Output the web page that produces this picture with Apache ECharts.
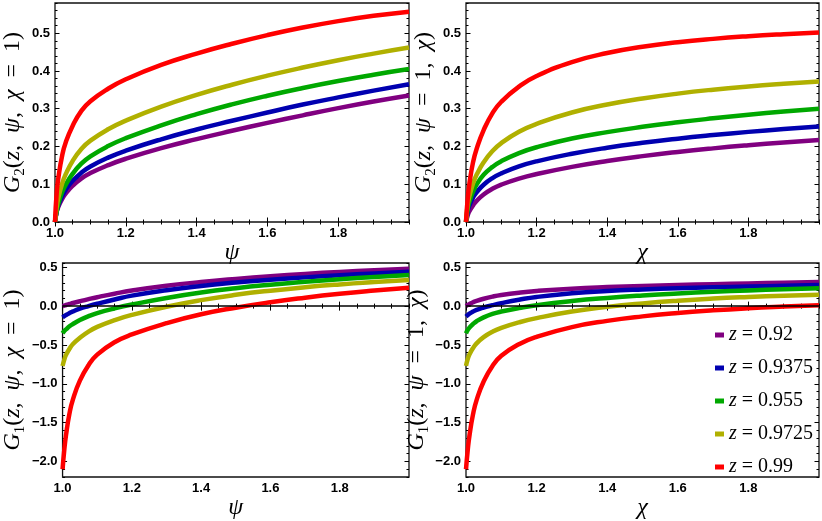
<!DOCTYPE html>
<html>
<head>
<meta charset="utf-8">
<script src="https://cdn.jsdelivr.net/npm/echarts@6/dist/echarts.min.js"></script>
<style>
html,body{margin:0;padding:0;background:#fff;}
#chart{width:822px;height:521px;}
</style>
</head>
<body>
<div id="chart"></div>
<script>
// ---- data ----
const xGrid = [1, 1.005, 1.01, 1.02, 1.03, 1.05, 1.075, 1.1, 1.15, 1.2, 1.3, 1.4, 1.5, 1.6, 1.7, 1.8, 1.9, 2.0];
const zLabels = ['0.92', '0.9375', '0.955', '0.9725', '0.99'];
const zColors = ['#800080', '#0000b0', '#00a800', '#b0b000', '#ff0000'];

const xTickLabels = [1.0, 1.2, 1.4, 1.6, 1.8];
const yTickLabelsTop = [0.0, 0.1, 0.2, 0.3, 0.4, 0.5];
const yTickLabelsBottom = [-2.0, -1.5, -1.0, -0.5, 0.0, 0.5];

// G2(z, psi, chi=1)
const g2PsiPurple = [0, 0.0275, 0.0415, 0.0605, 0.075, 0.096, 0.1155, 0.1295, 0.1505, 0.1675, 0.1955, 0.2195, 0.2415, 0.2625, 0.2825, 0.3015, 0.319, 0.335];
const g2PsiBlue   = [0, 0.029, 0.046, 0.068, 0.085, 0.109, 0.131, 0.147, 0.1705, 0.189, 0.219, 0.245, 0.268, 0.29, 0.311, 0.33, 0.348, 0.365];
const g2PsiGreen  = [0, 0.03, 0.05, 0.078, 0.098, 0.128, 0.155, 0.174, 0.201, 0.222, 0.256, 0.2855, 0.3115, 0.3345, 0.355, 0.3735, 0.39, 0.405];
const g2PsiYellow = [0, 0.041, 0.066, 0.101, 0.126, 0.162, 0.194, 0.2155, 0.2455, 0.2685, 0.3055, 0.3365, 0.3635, 0.3875, 0.409, 0.4285, 0.446, 0.462];
const g2PsiRed    = [0, 0.08, 0.12, 0.175, 0.21, 0.255, 0.295, 0.32, 0.353, 0.378, 0.416, 0.446, 0.472, 0.495, 0.515, 0.532, 0.546, 0.557];

// G2(z, psi=1, chi)
const g2ChiPurple = [0, 0.018, 0.029, 0.044, 0.056, 0.073, 0.088, 0.099, 0.115, 0.127, 0.146, 0.1615, 0.1745, 0.1855, 0.195, 0.2033, 0.2106, 0.2172];
const g2ChiBlue   = [0, 0.0297, 0.0447, 0.0647, 0.0787, 0.0987, 0.1162, 0.1287, 0.1472, 0.1607, 0.1807, 0.1967, 0.2097, 0.2207, 0.2302, 0.2387, 0.2462, 0.253];
const g2ChiGreen  = [0, 0.036, 0.055, 0.08, 0.099, 0.125, 0.146, 0.161, 0.1825, 0.198, 0.221, 0.238, 0.252, 0.264, 0.2745, 0.284, 0.2925, 0.3];
const g2ChiYellow = [0, 0.047, 0.07, 0.102, 0.125, 0.158, 0.188, 0.209, 0.239, 0.26, 0.29, 0.311, 0.327, 0.34, 0.3505, 0.359, 0.366, 0.372];
const g2ChiRed    = [0, 0.0635, 0.1035, 0.1585, 0.1935, 0.2435, 0.2885, 0.3185, 0.3585, 0.3865, 0.4235, 0.4475, 0.464, 0.476, 0.485, 0.492, 0.4975, 0.502];

// G1(z, psi, chi=1)
const g1PsiPurple = [0, 0.007, 0.014, 0.027, 0.04, 0.063, 0.09, 0.115, 0.16, 0.2, 0.262, 0.31, 0.35, 0.385, 0.415, 0.44, 0.462, 0.481];
const g1PsiBlue   = [-0.146, -0.13, -0.115, -0.09, -0.068, -0.033, 0.0, 0.03, 0.085, 0.135, 0.205, 0.26, 0.303, 0.339, 0.37, 0.397, 0.42, 0.442];
const g1PsiGreen  = [-0.35, -0.32, -0.3, -0.26, -0.23, -0.18, -0.13, -0.09, -0.03, 0.02, 0.105, 0.175, 0.23, 0.275, 0.313, 0.346, 0.375, 0.4];
const g1PsiYellow = [-0.77, -0.688, -0.628, -0.548, -0.488, -0.408, -0.328, -0.268, -0.1805, -0.113, -0.008, 0.077, 0.145, 0.199, 0.243, 0.279, 0.309, 0.335];
const g1PsiRed    = [-2.1, -1.85, -1.66, -1.38, -1.2, -0.96, -0.76, -0.625, -0.465, -0.365, -0.22, -0.105, -0.02, 0.05, 0.108, 0.158, 0.2, 0.237];

// G1(z, psi=1, chi)
const g1ChiPurple = [0, 0.015, 0.028, 0.05, 0.068, 0.095, 0.122, 0.143, 0.173, 0.195, 0.225, 0.245, 0.26, 0.272, 0.283, 0.292, 0.301, 0.31];
const g1ChiBlue   = [-0.135, -0.115, -0.098, -0.07, -0.048, -0.018, 0.012, 0.038, 0.082, 0.118, 0.165, 0.195, 0.215, 0.23, 0.242, 0.252, 0.262, 0.272];
const g1ChiGreen  = [-0.35, -0.305, -0.275, -0.23, -0.195, -0.145, -0.1, -0.07, -0.025, 0.012, 0.065, 0.105, 0.137, 0.163, 0.184, 0.202, 0.217, 0.23];
const g1ChiYellow = [-0.77, -0.68, -0.62, -0.54, -0.48, -0.4, -0.33, -0.28, -0.21, -0.155, -0.07, -0.01, 0.035, 0.07, 0.097, 0.117, 0.133, 0.146];
const g1ChiRed    = [-2.1, -1.85, -1.66, -1.39, -1.21, -0.97, -0.77, -0.64, -0.49, -0.395, -0.27, -0.19, -0.132, -0.088, -0.054, -0.027, -0.006, 0.012];

// ---- chart ----
const serif = 'Liberation Serif';
const richName = {
  i: { fontFamily: serif, fontStyle: 'italic', fontSize: 24, lineHeight: 30, color: '#000' },
  r: { fontFamily: serif, fontSize: 24, lineHeight: 30, color: '#000' },
  s: { fontFamily: serif, fontSize: 15, lineHeight: 15, verticalAlign: 'bottom', color: '#000' }
};
const SP = '\u2002';

const panels = [
  { grid: { left: 55, top: 3, width: 354, height: 219 }, yMin: 0, yMax: 0.58, yTicks: yTickLabelsTop, yMinor: 0.02,
    xName: '{i|ψ}', yName: '{i|G}{s|2}{r|(}{i|z}{r|,' + SP + '}{i|ψ}{r|,' + SP + '}{i|χ}{r|' + SP + '=' + SP + '1)}',
    series: [g2PsiPurple, g2PsiBlue, g2PsiGreen, g2PsiYellow, g2PsiRed], zero: false },
  { grid: { left: 466, top: 3, width: 353, height: 219 }, yMin: 0, yMax: 0.58, yTicks: yTickLabelsTop, yMinor: 0.02,
    xName: '{i|χ}', yName: '{i|G}{s|2}{r|(}{i|z}{r|,' + SP + '}{i|ψ}{r|' + SP + '=' + SP + '1,' + SP + '}{i|χ}{r|)}',
    series: [g2ChiPurple, g2ChiBlue, g2ChiGreen, g2ChiYellow, g2ChiRed], zero: false },
  { grid: { left: 55, top: 263, width: 354, height: 220 }, yMin: -2.2, yMax: 0.555, yTicks: yTickLabelsBottom, yMinor: 0.1,
    xName: '{i|ψ}', yName: '{i|G}{s|1}{r|(}{i|z}{r|,' + SP + '}{i|ψ}{r|,' + SP + '}{i|χ}{r|' + SP + '=' + SP + '1)}',
    series: [g1PsiPurple, g1PsiBlue, g1PsiGreen, g1PsiYellow, g1PsiRed], zero: true },
  { grid: { left: 466, top: 263, width: 353, height: 220 }, yMin: -2.2, yMax: 0.555, yTicks: yTickLabelsBottom, yMinor: 0.1,
    xName: '{i|χ}', yName: '{i|G}{s|1}{r|(}{i|z}{r|,' + SP + '}{i|ψ}{r|' + SP + '=' + SP + '1,' + SP + '}{i|χ}{r|)}',
    series: [g1ChiPurple, g1ChiBlue, g1ChiGreen, g1ChiYellow, g1ChiRed], zero: true }
];

const tickLine = { color: '#000', width: 1 };
const labelStyle = { fontFamily: 'Liberation Sans', fontWeight: 'bold', fontSize: 13, color: '#000' };
const fmt = v => (v < 0 ? '\u2212' : '') + Math.abs(v).toFixed(1);

const grids = [], xAxes = [], yAxes = [], series = [];
panels.forEach((p, gi) => {
  grids.push(Object.assign({ show: true, borderColor: '#111', borderWidth: 1.3, backgroundColor: 'transparent', containLabel: false }, p.grid));
  const xBase = xAxes.length, yBase = yAxes.length;
  ['bottom', 'top'].forEach((pos, k) => {
    xAxes.push({ type: 'value', gridIndex: gi, min: 1, max: 2, position: pos,
      axisLine: { show: false }, splitLine: { show: false },
      axisTick: { show: true, inside: true, length: 4.5, customValues: xTickLabels, lineStyle: tickLine },
      axisLabel: k === 0 ? { show: true, customValues: xTickLabels, formatter: fmt, margin: 5, ...labelStyle } : { show: false },
      name: k === 0 ? p.xName : '', nameLocation: 'middle', nameGap: 16,
      nameTextStyle: { rich: richName } });
    xAxes.push({ type: 'value', gridIndex: gi, min: 1, max: 2, interval: 0.05, position: pos,
      axisLine: { show: false }, splitLine: { show: false }, axisLabel: { show: false },
      axisTick: { show: true, inside: true, length: 2.5, lineStyle: tickLine } });
  });
  ['left', 'right'].forEach((pos, k) => {
    yAxes.push({ type: 'value', gridIndex: gi, min: p.yMin, max: p.yMax, position: pos,
      axisLine: { show: false }, splitLine: { show: false },
      axisTick: { show: true, inside: true, length: 4.5, customValues: p.yTicks, lineStyle: tickLine },
      axisLabel: k === 0 ? { show: true, customValues: p.yTicks, formatter: fmt, margin: 5, ...labelStyle } : { show: false },
      name: k === 0 ? p.yName : '', nameLocation: 'middle', nameGap: 25,
      nameTextStyle: { rich: richName } });
    yAxes.push({ type: 'value', gridIndex: gi, min: p.yMin, max: p.yMax, interval: p.yMinor, position: pos,
      axisLine: { show: false }, splitLine: { show: false }, axisLabel: { show: false },
      axisTick: { show: true, inside: true, length: 2.5, lineStyle: tickLine } });
  });
  p.series.forEach((arr, ci) => {
    const s = {
      type: 'line', name: zLabels[ci], xAxisIndex: xBase, yAxisIndex: yBase,
      data: xGrid.map((x, i) => [x, arr[i]]),
      showSymbol: false, symbol: 'none', smooth: 0.5,
      lineStyle: { width: 4.5, color: zColors[ci], cap: 'butt', join: 'round' }, itemStyle: { color: zColors[ci] },
      clip: true, z: 2
    };
    if (p.zero && ci === p.series.length - 1) {
      s.markLine = { silent: true, symbol: ['none', 'none'], label: { show: false },
        lineStyle: { color: '#000', width: 1.5, type: 'solid' }, data: [{ yAxis: 0 }], animation: false };
    }
    series.push(s);
  });
});

const chart = echarts.init(document.getElementById('chart'), null, { renderer: 'canvas' });
chart.setOption({
  animation: false,
  backgroundColor: '#fff',
  grid: grids,
  xAxis: xAxes,
  yAxis: yAxes,
  legend: {
    data: zLabels, orient: 'vertical', left: 710, top: 320, icon: 'rect',
    itemWidth: 9, itemHeight: 5, itemGap: 13,
    formatter: n => '{i|z}{r| = ' + n + '}',
    textStyle: { rich: {
      i: { fontFamily: serif, fontStyle: 'italic', fontSize: 20, lineHeight: 21, color: '#000' },
      r: { fontFamily: serif, fontSize: 20, lineHeight: 21, color: '#000' } } },
    selectedMode: false
  },
  series: series
});
</script>
</body>
</html>
